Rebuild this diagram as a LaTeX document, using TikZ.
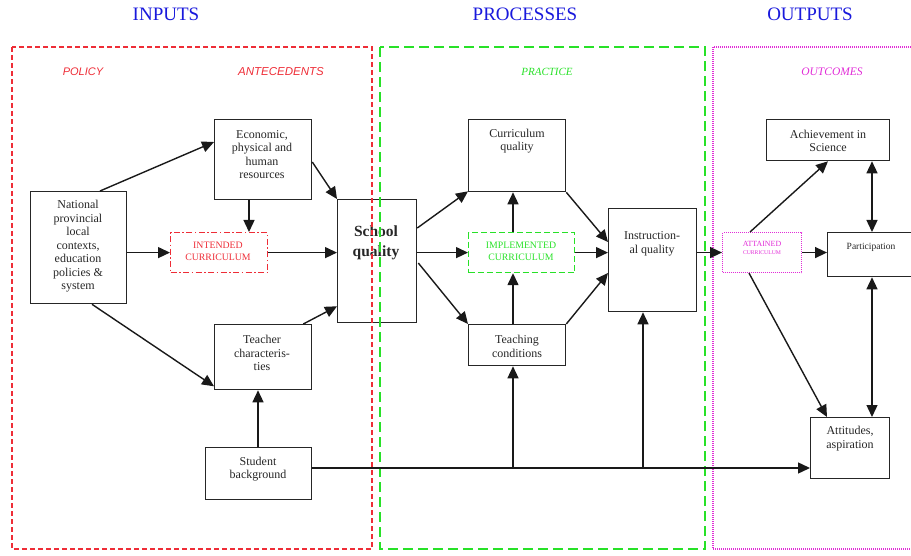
\documentclass[tikz,border=0pt]{standalone}
\usepackage{fontspec}
\setmainfont{Liberation Serif}
\newfontfamily\arialfont{Liberation Sans}
\usetikzlibrary{arrows.meta,calc}
\definecolor{cRed}{RGB}{238,45,55}
\definecolor{cGreen}{RGB}{40,225,40}
\definecolor{cMag}{RGB}{225,45,215}
\definecolor{cBlue}{RGB}{25,25,220}
\begin{document}
\begin{tikzpicture}[x=1pt,y=-1pt,
  box/.style={draw=black!85, line width=1.3pt, inner sep=0pt, anchor=north west},
  txt/.style={align=center, inner sep=0pt, text=black!85, font=\fontsize{12}{13.5}\selectfont},
  ctxt/.style={align=center, inner sep=0pt, font=\fontsize{9.8}{12}\selectfont},
  head/.style={text=cBlue, inner sep=0pt, font=\fontsize{19}{22}\selectfont},
  arr/.style={line width=1.4pt, draw=black!90, -{Triangle[length=12pt,width=11pt]}},
  darr/.style={line width=1.4pt, draw=black!90, {Triangle[length=12pt,width=11pt]}-{Triangle[length=12pt,width=11pt]}},
  redreg/.style={draw=cRed, line width=1.2pt, dash pattern=on 5pt off 3pt},
  greenreg/.style={draw=cGreen, line width=1.2pt, dash pattern=on 10pt off 5pt},
  magreg/.style={draw=cMag, line width=1.1pt, dash pattern=on 1pt off 1pt}
]
\useasboundingbox (0,0) rectangle (911,556);

% headers
\node[head] (hin) at (166,14) {INPUTS};
\node[head] (hpr) at (525,14) {PROCESSES};
\node[head] (hout) at (810,14) {OUTPUTS};

% region labels
\node[inner sep=0pt, text=cRed, font=\arialfont\itshape\fontsize{11}{13}\selectfont] (lpol) at (83,72) {POLICY};
\node[inner sep=0pt, text=cRed, font=\arialfont\itshape\fontsize{11.5}{13}\selectfont] (lant) at (281,72) {ANTECEDENTS};
\node[inner sep=0pt, text=cGreen, font=\itshape\fontsize{11}{13}\selectfont] (lpra) at (547,72) {PRACTICE};
\node[inner sep=0pt, text=cMag, font=\itshape\fontsize{11.5}{13}\selectfont] (lout) at (832,72) {OUTCOMES};

% boxes
\node[box, minimum width=96, minimum height=112] (nat) at (30,191) {};
\node[txt] (natT) at (78,246.5) {National\\provincial\\local\\contexts,\\education\\policies \&\\system};

\node[box, minimum width=97, minimum height=80] (eco) at (214,119) {};
\node[txt] (ecoT) at (262,154.5) {Economic,\\physical and\\human\\resources};

\node[box, draw=cRed, line width=1.2pt, dash pattern=on 6pt off 2.5pt on 1.5pt off 2.5pt, minimum width=97, minimum height=40] (int) at (170,232) {};
\node[ctxt, text=cRed] (intT) at (218,251) {INTENDED\\CURRICULUM};

\node[box, minimum width=79, minimum height=123] (sch) at (337,199) {};
\node[txt, font=\bfseries\fontsize{15.5}{20}\selectfont] (schT) at (376,243) {School\\quality};

\node[box, minimum width=97, minimum height=65] (tea) at (214,324) {};
\node[txt] (teaT) at (262,353) {Teacher\\characteris-\\ties};

\node[box, minimum width=106, minimum height=52] (stu) at (205,447) {};
\node[txt] (stuT) at (258,469) {Student\\background};

\node[box, minimum width=97, minimum height=72] (cq) at (468,119) {};
\node[txt] (cqT) at (517,141) {Curriculum\\quality};

\node[box, draw=cGreen, line width=1.2pt, dash pattern=on 6pt off 3pt, minimum width=106, minimum height=40] (imp) at (468,232) {};
\node[ctxt, text=cGreen] (impT) at (521,251) {IMPLEMENTED\\CURRICULUM};

\node[box, minimum width=97, minimum height=41] (tc) at (468,324) {};
\node[txt] (tcT) at (517,346.5) {Teaching\\conditions};

\node[box, minimum width=88, minimum height=103] (iq) at (608,208) {};
\node[txt] (iqT) at (652,244) {Instruction-\\al quality};

\node[box, draw=cMag, line width=1.1pt, dash pattern=on 1pt off 1pt, minimum width=79, minimum height=40] (att) at (722,232) {};
\node[inner sep=0pt, text=cMag, font=\fontsize{7.9}{9}\selectfont] (attT1) at (762,244) {ATTAINED};
\node[inner sep=0pt, text=cMag, font=\fontsize{5.7}{7}\selectfont] (attT2) at (762,253) {CURRICULUM};

\node[box, minimum width=123, minimum height=41] (ach) at (766,119) {};
\node[txt] (achT) at (828,141) {Achievement in\\Science};

\node[box, minimum width=100, minimum height=44] (par) at (827,232) {};
\node[txt, font=\fontsize{9.5}{12}\selectfont] (parT) at (871,247) {Participation};

\node[box, minimum width=79, minimum height=61] (attd) at (810,417) {};
\node[txt] (attdT) at (850,438.5) {Attitudes,\\aspiration};

% regions
\draw[redreg] (12,47) rectangle (372,549);
\draw[greenreg] (380,47) rectangle (705,549);
\draw[magreg] (713,47) rectangle (930,549);

% connectors
\draw[arr] ($(nat.north west)+(70,0)$) -- ($(eco.north west)+(0,23)$);
\draw[arr] (nat.east |- int.west) -- (int.west);
\draw[arr] ($(nat.south west)+(62,0)$) -- ($(tea.south west)+(0,-4)$);
\draw[arr] ($(eco.south west)+(35,0)$) -- ($(int.north west)+(79,0)$);
\draw[arr] ($(eco.north east)+(0,43)$) -- (sch.north west);
\draw[arr] (int.east) -- (sch.west |- int.east);
\draw[arr] ($(tea.north east)+(-9,0)$) -- ($(sch.south west)+(0,-17)$);
\draw[arr] ($(stu.north west)+(53,0)$) -- ($(tea.south west)+(44,0)$);

\coordinate (busS) at ($(stu.north east)+(0,21)$);
\coordinate (busE) at ($(attd.north west)+(0,51)$);
\coordinate (tcx) at ($(tc.south west)+(45,0)$);
\coordinate (iqx) at ($(iq.south west)+(35,0)$);
\draw[arr] (busS) -- (busE);
\draw[arr] (tcx |- busS) -- (tcx);
\draw[arr] (iqx |- busS) -- (iqx);

\draw[arr] ($(sch.north east)+(0,29)$) -- ($(cq.south west)+(0,-1)$);
\draw[arr] (sch.east |- imp.west) -- (imp.west);
\draw[arr] ($(sch.north east)+(1,64)$) -- (tc.north west);
\draw[arr] ($(imp.north west)+(45,0)$) -- ($(cq.south west)+(45,0)$);
\draw[arr] ($(tc.north west)+(45,0)$) -- ($(imp.south west)+(45,0)$);
\draw[arr] (cq.south east) -- ($(iq.north west)+(0,34)$);
\draw[arr] (imp.east) -- (iq.west |- imp.east);
\draw[arr] (tc.north east) -- ($(iq.north west)+(0,65)$);
\draw[arr] (iq.east |- att.west) -- (att.west);
\draw[arr] ($(att.north west)+(28,0)$) -- ($(ach.south west)+(62,0)$);
\draw[arr] (att.east) -- (par.west |- att.east);
\draw[arr] ($(att.south west)+(27,0)$) -- ($(attd.north west)+(17,0)$);
\draw[darr] ($(ach.south west)+(106,0)$) -- ($(par.north west)+(45,0)$);
\draw[darr] ($(par.south west)+(45,0)$) -- ($(attd.north west)+(62,0)$);
\end{tikzpicture}
\end{document}
